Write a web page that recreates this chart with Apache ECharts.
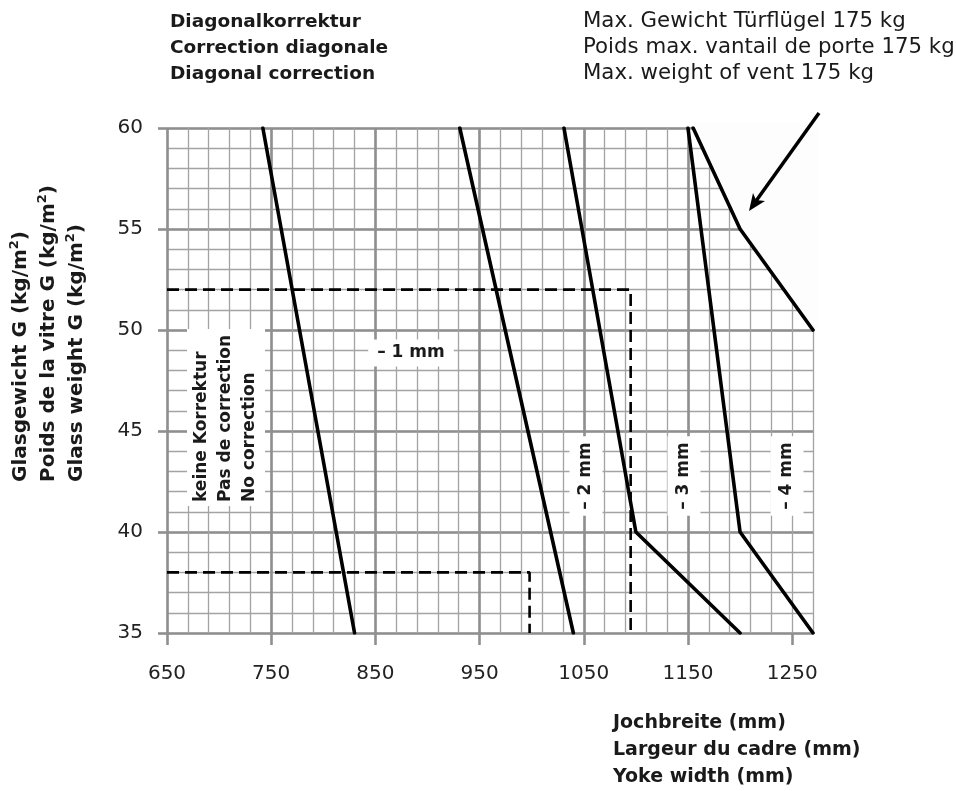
<!DOCTYPE html>
<html>
<head>
<meta charset="utf-8">
<script src="https://cdn.jsdelivr.net/npm/echarts@6/dist/echarts.min.js"></script>
<style>
  html, body { margin: 0; padding: 0; background: #fff; }
  #chart { width: 956px; height: 791px; }
</style>
</head>
<body>
<div id="chart"></div>
<script>
// x = Jochbreite (mm), y = Glasgewicht (kg/m2)
var xTicks = [650, 750, 850, 950, 1050, 1150, 1250];
var yTicks = [35, 40, 45, 50, 55, 60];

// Grenzlinien zwischen den Korrekturbereichen
var line0 = [[742, 60], [830, 35]];
var line1 = [[931, 60], [1040, 35]];
var line2 = [[1031, 60], [1100, 40], [1200, 35]];
var line3 = [[1150, 60], [1200, 40], [1270, 35]];
// max. Gewicht Tuerfluegel 175 kg
var maxLine = [[1155, 60], [1200, 55], [1270, 50]];

// Beispiele (gestrichelt)
var example1 = [[650, 52], [1095, 52], [1095, 35]];
var example2 = [[650, 38], [998, 38], [998, 35]];

var FONT = '"DejaVu Sans", sans-serif';
var MASK = '#fdfdfd';
var minorLine = { color: '#a3a3a3', width: 1.3 };
var majorLine = { color: '#8f8f8f', width: 2.6 };

var chart = echarts.init(document.getElementById('chart'));

function solid(data) {
  return {
    type: 'line', data: data, symbol: 'none', z: 20, silent: true,
    lineStyle: { color: '#000', width: 3.6, cap: 'round', join: 'round' }
  };
}
function dashed(data) {
  return {
    type: 'line', data: data, symbol: 'none', z: 20, silent: true,
    lineStyle: { color: '#000', width: 2.6, type: [12, 6] }
  };
}

chart.setOption({
  animation: false,
  grid: { left: 167, right: 143, top: 128, bottom: 158 },
  xAxis: [
    {
      type: 'value', min: 650, max: 1270, interval: 20,
      axisLine: { show: false }, axisTick: { show: false }, axisLabel: { show: false },
      splitLine: { show: true, lineStyle: minorLine }
    },
    {
      type: 'value', min: 650, max: 1270, interval: 100, position: 'bottom',
      axisLine: { show: false },
      axisTick: { show: true, length: 12, customValues: xTicks, lineStyle: majorLine },
      axisLabel: {
        customValues: xTicks, margin: 31, fontFamily: FONT, fontSize: 20, color: '#222',
        formatter: function (v) { return String(v); }
      },
      splitLine: { show: true, showMaxLine: false, lineStyle: majorLine }
    }
  ],
  yAxis: [
    {
      type: 'value', min: 35, max: 60, interval: 1, position: 'left',
      axisLine: { show: false }, axisTick: { show: false }, axisLabel: { show: false },
      splitLine: { show: true, lineStyle: minorLine }
    },
    {
      type: 'value', min: 35, max: 60, interval: 5, position: 'left',
      axisLine: { show: false },
      axisTick: { show: true, length: 9, customValues: yTicks, lineStyle: majorLine },
      axisLabel: { customValues: yTicks, margin: 24, fontFamily: FONT, fontSize: 20, color: '#222' },
      splitLine: { show: true, lineStyle: majorLine }
    }
  ],
  series: [
    {
      // Flaeche oberhalb der 175-kg-Linie: Raster dort ausgeblendet
      type: 'line', data: maxLine, symbol: 'none', z: 15, silent: true, clip: false,
      lineStyle: { width: 1, color: MASK },
      areaStyle: { color: MASK, opacity: 1, origin: 'end' }
    },
    solid(line0), solid(line1), solid(line2), solid(line3), solid(maxLine),
    dashed(example1), dashed(example2)
  ],
  graphic: [
    {
      type: 'text', x: 170, y: 9, z: 30,
      style: {
        text: 'Diagonalkorrektur\nCorrection diagonale\nDiagonal correction',
        font: 'bold 18.5px ' + FONT, lineHeight: 26, fill: '#1a1a1a'
      }
    },
    {
      type: 'text', x: 583, y: 8, z: 30,
      style: {
        text: 'Max. Gewicht Türflügel 175 kg\nPoids max. vantail de porte 175 kg\nMax. weight of vent 175 kg',
        font: '21.3px ' + FONT, lineHeight: 26, fill: '#1a1a1a'
      }
    },
    {
      type: 'text', x: 613, y: 710, z: 30,
      style: {
        text: 'Jochbreite (mm)\nLargeur du cadre (mm)\nYoke width (mm)',
        font: 'bold 19px ' + FONT, lineHeight: 27, fill: '#1a1a1a'
      }
    },
    {
      type: 'text', x: 49, y: 482, rotation: Math.PI / 2, z: 30,
      style: {
        text: '{b|Glasgewicht G (kg/m}{s|2}{b|)}\n{b|Poids de la vitre G (kg/m}{s|2}{b|)}\n{b|Glass weight G (kg/m}{s|2}{b|)}',
        align: 'left', verticalAlign: 'middle', fill: '#1a1a1a',
        rich: {
          b: { font: 'bold 20px ' + FONT, lineHeight: 28, fill: '#1a1a1a' },
          s: { font: 'bold 13px ' + FONT, lineHeight: 28, verticalAlign: 'top', padding: [1, 0, 0, 0], fill: '#1a1a1a' }
        }
      }
    },
    {
      type: 'text', x: 411, y: 353, z: 30,
      style: {
        text: '– 1 mm', font: 'bold 17px ' + FONT, fill: '#1a1a1a',
        align: 'center', verticalAlign: 'middle', backgroundColor: '#fff', padding: [5, 9]
      }
    },
    {
      type: 'text', x: 226, y: 506, rotation: Math.PI / 2, z: 30,
      style: {
        text: 'keine Korrektur\nPas de correction\nNo correction', font: 'bold 17px ' + FONT,
        lineHeight: 24, fill: '#1a1a1a', align: 'left', verticalAlign: 'middle',
        backgroundColor: '#fff', padding: [3, 6, 3, 4]
      }
    },
    {
      type: 'text', x: 586, y: 476, rotation: Math.PI / 2, z: 30,
      style: {
        text: '– 2 mm', font: 'bold 17px ' + FONT, fill: '#1a1a1a',
        align: 'center', verticalAlign: 'middle', backgroundColor: '#fff', padding: [8, 6]
      }
    },
    {
      type: 'text', x: 684, y: 476, rotation: Math.PI / 2, z: 30,
      style: {
        text: '– 3 mm', font: 'bold 17px ' + FONT, fill: '#1a1a1a',
        align: 'center', verticalAlign: 'middle', backgroundColor: '#fff', padding: [8, 6]
      }
    },
    {
      type: 'text', x: 787, y: 476, rotation: Math.PI / 2, z: 30,
      style: {
        text: '– 4 mm', font: 'bold 17px ' + FONT, fill: '#1a1a1a',
        align: 'center', verticalAlign: 'middle', backgroundColor: '#fff', padding: [8, 6]
      }
    },
    {
      type: 'line', z: 30,
      shape: { x1: 819, y1: 113, x2: 756, y2: 201 },
      style: { stroke: '#000', lineWidth: 3.5 }
    },
    {
      type: 'polygon', z: 30,
      shape: { points: [[749, 211], [753, 193], [756, 200], [765, 201]] },
      style: { fill: '#000' }
    }
  ]
});

// Raender (obere und rechte Rasterlinie) im ausgeblendeten Bereich ebenfalls abdecken
var pts = maxLine.map(function (p) {
  return chart.convertToPixel({ xAxisIndex: 0, yAxisIndex: 0 }, p);
});
var first = pts[0], last = pts[pts.length - 1];
if (first && last) {
  chart.setOption({
    graphic: {
      elements: [{
        id: 'maskEdge', type: 'polygon', z: 15, silent: true,
        shape: { points: [[first[0], first[1] - 5]].concat(pts)
          .concat([[last[0] + 5, last[1]], [last[0] + 5, first[1] - 5]]) },
        style: { fill: MASK }
      }]
    }
  });
}
</script>
</body>
</html>
